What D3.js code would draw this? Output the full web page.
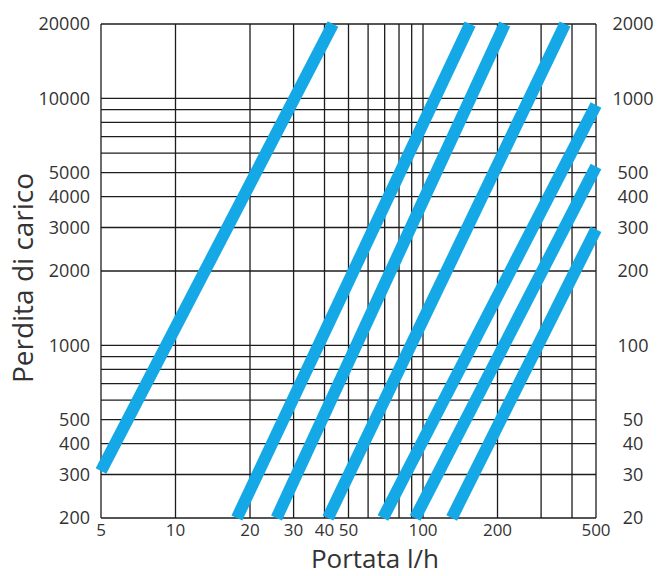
<!DOCTYPE html>
<html>
<head>
<meta charset="utf-8">
<script src="https://cdn.jsdelivr.net/npm/d3@7"></script>
<style>
  html, body { margin: 0; padding: 0; background: #fff; }
  svg { display: block; }
  text { font-family: "Open Sans", "Noto Sans", sans-serif; fill: #333; }
</style>
</head>
<body>
<svg id="chart" width="658" height="576"></svg>
<script>
// ---- Data ----
const flowTickLabels = [5, 10, 20, 30, 40, 50, 100, 200, 500];
const flowGridValues = [5, 10, 20, 30, 40, 50, 60, 70, 80, 90, 100, 200, 300, 400, 500];
const lossGridValues = [200, 300, 400, 500, 600, 700, 800, 900, 1000,
                        2000, 3000, 4000, 5000, 6000, 7000, 8000, 9000, 10000, 20000];
const lossTickLabelsLeft = [200, 300, 400, 500, 1000, 2000, 3000, 4000, 5000, 10000, 20000];
const lossTickLabelsRight = [20, 30, 40, 50, 100, 200, 300, 400, 500, 1000, 2000];

// each curve: [flow l/h, pressure loss] at its two ends
const curve1 = [[5, 310], [43.3, 20000]];
const curve2 = [[17.7, 200], [155, 20000]];
const curve3 = [[25.6, 200], [214, 20000]];
const curve4 = [[41.3, 200], [375, 20000]];
const curve5 = [[68.9, 200], [500, 9400]];
const curve6 = [[92.9, 200], [500, 5300]];
const curve7 = [[130.6, 200], [500, 2950]];
const curves = [curve1, curve2, curve3, curve4, curve5, curve6, curve7];

const xTitle = "Portata l/h";
const yTitle = "Perdita di carico";

// ---- Layout ----
const plot = { left: 101, right: 596, top: 24, bottom: 518 };

const svg = d3.select("#chart");

const x = d3.scaleLog().domain([5, 500]).range([plot.left, plot.right]);
const y = d3.scaleLog().domain([200, 20000]).range([plot.bottom, plot.top]);
const yRight = d3.scaleLog().domain([20, 2000]).range([plot.bottom, plot.top]);

const gridColor = "#1c1c1c";

// grid
const grid = svg.append("g");
grid.selectAll("line.v").data(flowGridValues).join("line")
  .attr("class", "v")
  .attr("x1", d => x(d)).attr("x2", d => x(d))
  .attr("y1", plot.top).attr("y2", plot.bottom)
  .attr("stroke", gridColor).attr("stroke-width", 1.3);
grid.selectAll("line.h").data(lossGridValues).join("line")
  .attr("class", "h")
  .attr("x1", plot.left).attr("x2", plot.right)
  .attr("y1", d => y(d)).attr("y2", d => y(d))
  .attr("stroke", gridColor).attr("stroke-width", 1.3);

// curves
const line = d3.line().x(d => x(d[0])).y(d => y(d[1]));
svg.append("g").selectAll("path").data(curves).join("path")
  .attr("d", line)
  .attr("fill", "none")
  .attr("stroke", "#14a8e6")
  .attr("stroke-width", 12)
  .attr("stroke-linecap", "butt");

// left labels
svg.append("g").selectAll("text").data(lossTickLabelsLeft).join("text")
  .attr("x", 90)
  .attr("y", d => y(d))
  .attr("dy", "0.36em")
  .attr("text-anchor", "end")
  .attr("font-size", 18)
  .text(d => d);

// right labels
svg.append("g").selectAll("text").data(lossTickLabelsRight).join("text")
  .attr("x", 633)
  .attr("y", d => yRight(d))
  .attr("dy", "0.36em")
  .attr("text-anchor", "middle")
  .attr("font-size", 18)
  .text(d => d);

// bottom labels
svg.append("g").selectAll("text").data(flowTickLabels).join("text")
  .attr("x", d => x(d))
  .attr("y", 536)
  .attr("text-anchor", "middle")
  .attr("font-size", 17)
  .text(d => d);

// titles
svg.append("text")
  .attr("x", 375).attr("y", 568)
  .attr("text-anchor", "middle")
  .attr("font-size", 26)
  .text(xTitle);

svg.append("text")
  .attr("transform", "translate(33,278) rotate(-90)")
  .attr("text-anchor", "middle")
  .attr("font-size", 28)
  .text(yTitle);
</script>
</body>
</html>
